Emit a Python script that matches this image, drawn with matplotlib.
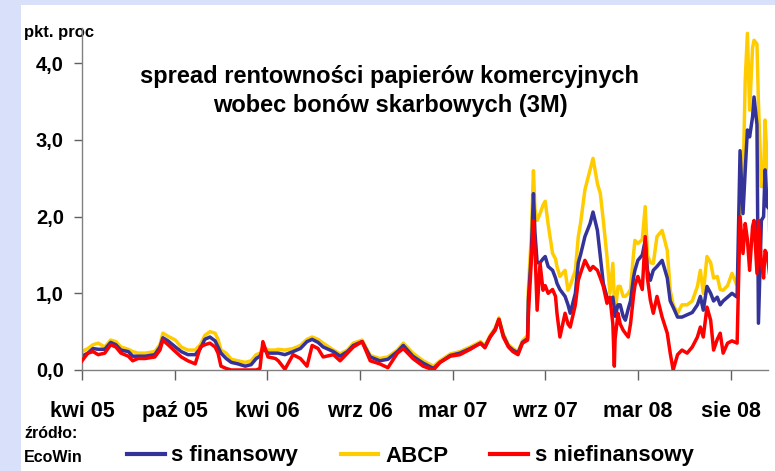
import matplotlib
matplotlib.use("Agg")
import matplotlib.pyplot as plt
from matplotlib.patches import Rectangle

# ---- data (trading-day index, values in pp) ----
dni = [0, 8, 15, 22, 31, 39, 46, 53, 63, 69, 76, 86, 99, 106, 110, 117, 127, 135, 144, 154,
       161, 167, 174, 181, 185, 189, 196, 203, 212, 222, 230, 237, 242, 246, 253, 263, 267, 276,
       287, 297, 306, 313, 321, 328, 342, 351, 361, 369, 381, 392, 405, 416, 429, 437, 450, 464,
       478, 487, 501, 514, 528, 542, 548, 555, 562, 567, 573, 580, 586, 593, 599, 606, 607, 611,
       614, 616, 619, 623, 627, 630, 634, 640, 644, 646, 650, 657, 661, 664, 671, 675, 678, 684,
       691, 695, 701, 705, 709, 714, 718, 722, 724, 725, 729, 732, 736, 739, 743, 746, 750, 752,
       756, 762, 766, 769, 773, 777, 782, 789, 796, 800, 804, 810, 816, 823, 830, 837, 841, 845,
       850, 855, 859, 864, 868, 872, 878, 884, 891, 895, 899, 902, 905, 908, 912, 914, 918, 920,
       924, 927, 929, 932, 935]

abcp = [0.24, 0.28, 0.33, 0.35, 0.30, 0.39, 0.37, 0.30, 0.27, 0.24, 0.22, 0.22, 0.24, 0.33, 0.48,
        0.44, 0.39, 0.30, 0.26, 0.26, 0.33, 0.45, 0.50, 0.48, 0.40, 0.26, 0.22, 0.14, 0.12, 0.10,
        0.12, 0.20, 0.22, 0.30, 0.26, 0.26, 0.27, 0.26, 0.28, 0.32, 0.40, 0.43, 0.40, 0.35, 0.26,
        0.21, 0.26, 0.35, 0.39, 0.19, 0.15, 0.17, 0.26, 0.35, 0.22, 0.12, 0.05, 0.12, 0.21, 0.24,
        0.30, 0.37, 0.32, 0.45, 0.55, 0.68, 0.47, 0.33, 0.28, 0.24, 0.38, 0.45, 1.04, 1.74, 2.60,
        2.10, 1.95, 2.04, 2.15, 2.20, 1.90, 1.52, 1.45, 1.35, 1.22, 1.30, 1.04, 1.10, 1.30, 1.74,
        1.91, 2.35, 2.61, 2.76, 2.43, 2.30, 1.95, 1.48, 1.00, 1.39, 0.90, 0.74, 1.09, 1.09, 0.96,
        0.96, 1.00, 1.05, 1.50, 1.69, 1.65, 1.70, 2.13, 1.50, 1.40, 1.39, 1.74, 1.82, 1.56, 1.04,
        0.85, 0.74, 0.85, 0.85, 0.90, 1.09, 1.30, 1.00, 1.48, 1.40, 1.20, 1.22, 1.05, 1.04, 1.10,
        1.26, 1.10, 1.95, 2.39, 3.78, 4.39, 3.39, 4.20, 4.30, 4.25, 3.48, 2.39, 2.52, 3.26, 2.69,
        1.82]

s_fin = [0.18, 0.22, 0.28, 0.27, 0.27, 0.36, 0.33, 0.26, 0.24, 0.18, 0.18, 0.18, 0.20, 0.30, 0.42,
         0.38, 0.30, 0.24, 0.20, 0.20, 0.28, 0.40, 0.43, 0.38, 0.30, 0.22, 0.15, 0.10, 0.08, 0.05,
         0.07, 0.15, 0.18, 0.28, 0.22, 0.22, 0.22, 0.20, 0.24, 0.28, 0.37, 0.40, 0.36, 0.30, 0.24,
         0.18, 0.24, 0.32, 0.37, 0.17, 0.12, 0.14, 0.24, 0.32, 0.18, 0.09, 0.02, 0.10, 0.19, 0.22,
         0.28, 0.35, 0.30, 0.43, 0.53, 0.66, 0.45, 0.31, 0.26, 0.22, 0.36, 0.41, 0.90, 1.50, 2.30,
         1.80, 1.40, 1.40, 1.45, 1.48, 1.35, 1.30, 1.20, 1.13, 1.05, 0.96, 0.85, 0.74, 1.00, 1.40,
         1.50, 1.74, 1.91, 2.06, 1.82, 1.48, 1.13, 0.95, 0.91, 0.95, 0.80, 0.70, 0.85, 0.85, 0.70,
         0.65, 0.80, 0.90, 1.20, 1.30, 1.43, 1.50, 1.69, 1.30, 1.17, 1.30, 1.35, 1.43, 1.20, 0.90,
         0.82, 0.69, 0.69, 0.72, 0.75, 0.85, 0.96, 0.78, 1.09, 1.00, 0.90, 0.95, 0.85, 0.90, 0.95,
         1.00, 0.95, 2.86, 2.04, 2.60, 3.13, 3.04, 3.30, 3.56, 3.20, 0.61, 1.95, 2.00, 2.61, 2.13,
         2.10]

s_niefin = [0.12, 0.22, 0.24, 0.20, 0.22, 0.33, 0.30, 0.22, 0.18, 0.12, 0.15, 0.15, 0.17, 0.26,
            0.39, 0.33, 0.24, 0.17, 0.12, 0.08, 0.30, 0.33, 0.35, 0.30, 0.22, 0.05, 0.02, 0.00,
            0.00, 0.00, 0.00, 0.00, 0.02, 0.37, 0.17, 0.15, 0.12, 0.01, 0.20, 0.15, 0.05, 0.32,
            0.28, 0.17, 0.20, 0.12, 0.22, 0.30, 0.37, 0.12, 0.08, 0.03, 0.22, 0.28, 0.15, 0.05,
            0.00, 0.10, 0.18, 0.20, 0.27, 0.35, 0.29, 0.43, 0.52, 0.66, 0.43, 0.30, 0.24, 0.20,
            0.35, 0.39, 0.70, 1.43, 1.95, 1.60, 0.78, 1.39, 1.04, 1.10, 1.00, 1.05, 0.96, 0.74,
            0.43, 0.74, 0.60, 0.56, 0.85, 1.17, 1.26, 1.43, 1.30, 1.35, 1.30, 1.20, 1.09, 0.87,
            0.95, 0.60, 0.05, 0.40, 0.74, 0.60, 0.52, 0.48, 0.43, 0.60, 0.96, 1.10, 1.22, 1.05,
            1.74, 1.20, 0.91, 0.74, 0.96, 0.69, 0.48, 0.22, 0.00, 0.20, 0.26, 0.22, 0.30, 0.43,
            0.56, 0.43, 0.82, 0.65, 0.26, 0.40, 0.48, 0.22, 0.35, 0.38, 0.35, 2.00, 1.52, 1.91,
            1.70, 1.30, 1.87, 1.95, 1.26, 1.95, 1.40, 1.20, 1.56, 1.50, 1.26]

tick_pos = [0, 126, 252, 378, 504, 630, 756, 882]
tick_labels = ["kwi 05", "paź 05", "kwi 06", "wrz 06", "mar 07", "wrz 07", "mar 08", "sie 08"]
y_ticks = [0.0, 1.0, 2.0, 3.0, 4.0]
y_labels = ["0,0", "1,0", "2,0", "3,0", "4,0"]

# ---- figure ----
W, H = 775, 471
fig = plt.figure(figsize=(W / 100, H / 100), dpi=100)
fig.patch.set_facecolor("#D8E0FA")
fig.patches.append(Rectangle((21 / W, 0), 1 - 21 / W, 1 - 5 / H, transform=fig.transFigure,
                             facecolor="white", edgecolor="none", zorder=-10))

ax = fig.add_axes([82 / W, 1 - 370 / H, (768 - 82) / W, (370 - 28) / H])
ax.set_facecolor("none")
ax.set_zorder(5)

ax.plot(dni, s_fin, color="#333399", lw=2.5, zorder=2, label="s finansowy")
ax.plot(dni, abcp, color="#FFCC00", lw=2.5, zorder=1, label="ABCP")
ax.plot(dni, s_niefin, color="#FF0000", lw=2.5, zorder=3, label="s niefinansowy")

ax.set_xlim(0, 933)
ax.set_ylim(0, 4.46)

for s in ["top", "right"]:
    ax.spines[s].set_visible(False)
for s in ["left", "bottom"]:
    ax.spines[s].set_color("#808080")
    ax.spines[s].set_linewidth(1.0)

font = ["Liberation Sans", "DejaVu Sans"]

ax.set_xticks(tick_pos)
ax.set_xticklabels(tick_labels, fontsize=15.5, fontweight="bold", family=font)
ax.set_yticks(y_ticks)
ax.set_yticklabels(y_labels, fontsize=14.5, fontweight="bold", family=font)
ax.tick_params(axis="x", direction="out", length=7, width=1, color="#606060", pad=15)
ax.tick_params(axis="y", direction="out", length=6, width=1, color="#606060", pad=7)

fig.text(24 / W, 1 - 33 / H, "pkt. proc", fontsize=12, fontweight="bold", family=font,
         va="center", ha="left")
fig.text(390 / W, 1 - 91 / H, "spread rentowności papierów komercyjnych\nwobec bonów skarbowych (3M)",
         fontsize=17, fontweight="bold", family=font, ha="center", va="center",
         linespacing=1.3)
fig.text(24 / W, 1 - 434 / H, "źródło:", fontsize=11.5, fontweight="bold", family=font,
         va="center", ha="left")
fig.text(24 / W, 1 - 458 / H, "EcoWin", fontsize=11.5, fontweight="bold", family=font,
         va="center", ha="left")

leg = fig.legend(loc="center left", bbox_to_anchor=(127 / W, 1 - 456 / H), ncol=3,
                 frameon=False, borderpad=0, borderaxespad=0, handlelength=1.7,
                 handletextpad=0.3, columnspacing=1.9,
                 prop={"family": font, "weight": "bold", "size": 16})
for line in leg.get_lines():
    line.set_linewidth(3)

fig.savefig("out.png", dpi=100)
